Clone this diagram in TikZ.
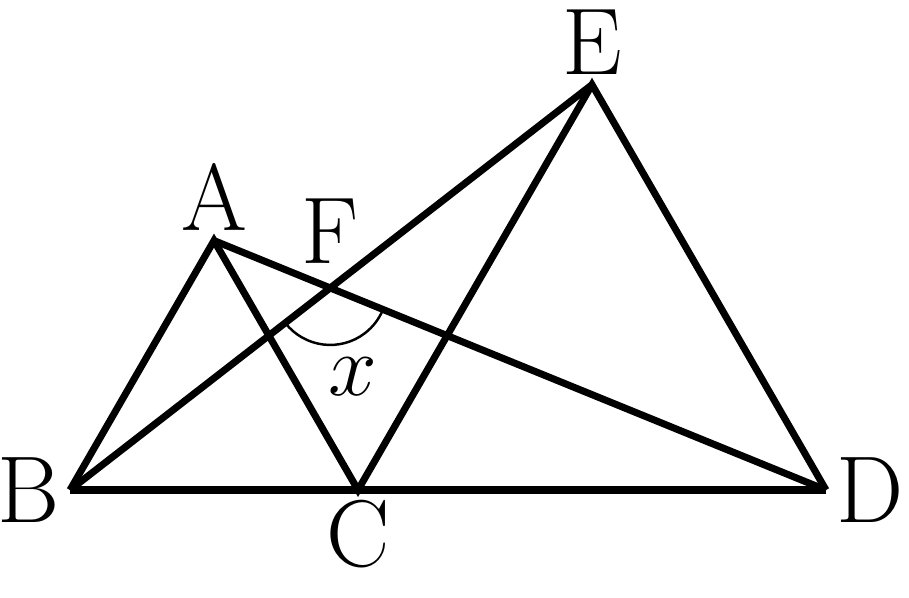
\documentclass[tikz,border=0pt]{standalone}
\usepackage{amsmath}
\usetikzlibrary{calc,angles}

\begin{document}
\begin{tikzpicture}[line width=2pt,font=\fontsize{27}{32}\selectfont,
  every label/.style={inner sep=1pt},label distance=1pt]
\useasboundingbox (-0.70,-1.07) rectangle (8.39,4.90);

\coordinate[label={left:B}] (B) at (0,0);
\coordinate[label={below:C}] (C) at (2.88,0);
\coordinate[label={right:D}] (D) at (7.56,0);
\coordinate[label={above:A}] (A) at ($(B)!1!60:(C)$);
\coordinate[label={above:E}] (E) at ($(C)!1!60:(D)$);
\coordinate[label={[label distance=5pt]above:F}] (F) at (intersection of B--E and A--D);

\draw (B) -- (D);
\draw (B) -- (A) -- (C) -- (E) -- (D);
\draw (B) -- (E);
\draw (A) -- (D);

\pic[draw, line width=0.7pt, angle radius=0.57cm] {angle = B--F--D};
\node (x) at ($(F)+(0.23,-0.89)$) {$x$};
\end{tikzpicture}
\end{document}
